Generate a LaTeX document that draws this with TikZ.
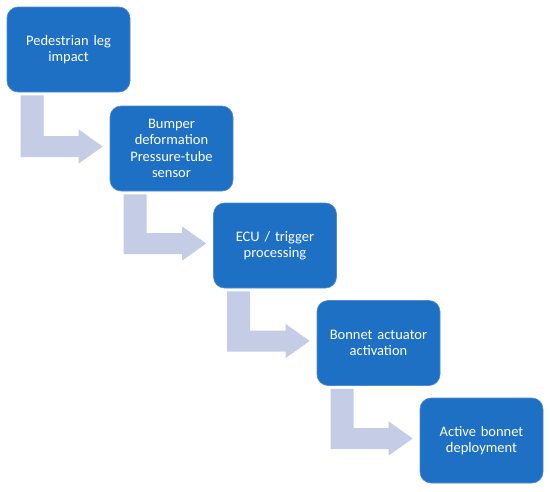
\documentclass[tikz,border=0pt]{standalone}
\usepackage{fontspec}
\setmainfont{Carlito}
\usetikzlibrary{calc}
\definecolor{boxblue}{RGB}{30,112,196}
\definecolor{boxedge}{RGB}{80,140,210}
\definecolor{flowgrey}{RGB}{196,204,230}
\tikzset{
  stepbox/.style={rectangle, rounded corners=11pt, fill=boxblue, draw=boxedge, line width=0.6pt,
    minimum width=123pt, minimum height=85pt, text width=117pt, align=center,
    text=white, font=\fontsize{14.5}{16.5}\selectfont, inner sep=0pt},
  flow/.style={fill=flowgrey}
}
\begin{document}
\begin{tikzpicture}[x=1pt, y=-1pt]
		\useasboundingbox (0,0) rectangle (550,491);
		% Steps
		\node[stepbox] (s1) at (68.5,49.5) {Pedestrian leg\\impact};
		\node[stepbox] (s2) at (171.5,148.5) {Bumper\\deformation\\Pressure-tube\\sensor};
		\node[stepbox] (s3) at (275,245.5) {ECU / trigger\\processing};
		\node[stepbox] (s4) at (378.5,343) {Bonnet actuator\\activation};
		\node[stepbox] (s5) at (481.5,440.5) {Active bonnet\\deployment};
		
		% Bent arrows
		\foreach \a/\b in {s1/s2, s2/s3, s3/s4, s4/s5} {
			\fill[flow] let \p1=($(\a.south west)+(14,3)$), \p2=($(\b.west)+(-7,-2)$) in
				(\x1,\y1) -- (\x1+23pt,\y1) -- (\x1+23pt,\y2+10.5pt) -- (\x2-24pt,\y2+10.5pt)
				-- (\x2-24pt,\y2+17pt) -- (\x2,\y2) -- (\x2-24pt,\y2-17pt)
				-- (\x2-24pt,\y2-10.5pt) -- (\x1,\y2-10.5pt) -- cycle;
		}
	\end{tikzpicture}
\end{document}
